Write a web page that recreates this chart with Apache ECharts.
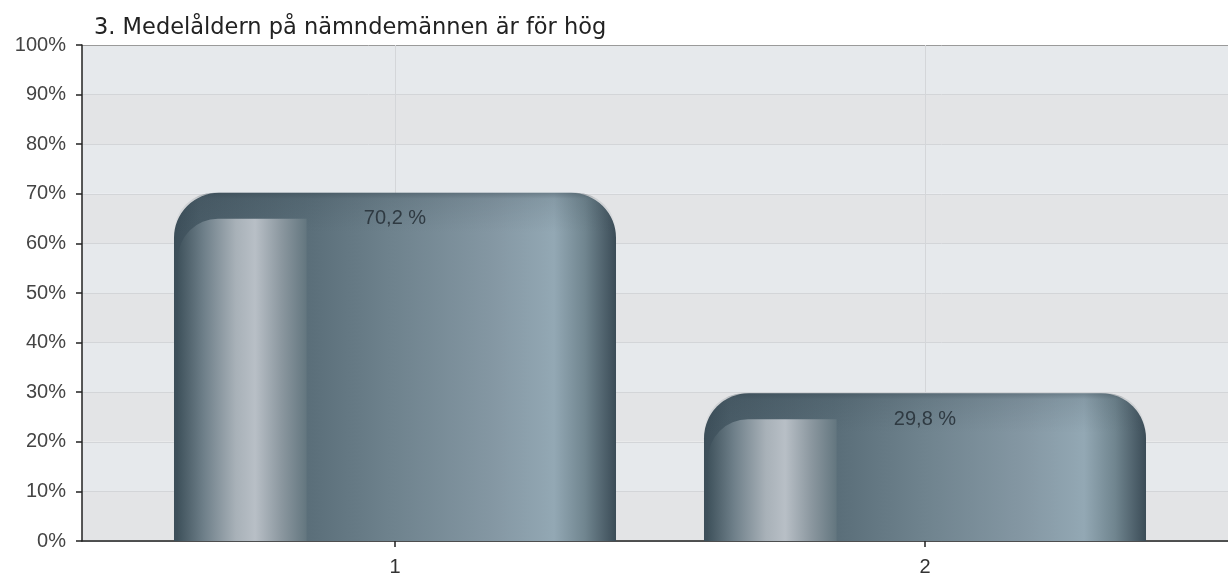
<!DOCTYPE html>
<html>
<head>
<meta charset="utf-8">
<script src="https://cdn.jsdelivr.net/npm/echarts@6/dist/echarts.min.js"></script>
<style>
html,body{margin:0;padding:0;background:#fff;}
#chart{width:1228px;height:577px;}
</style>
</head>
<body>
<div id="chart"></div>
<script>
const titleText = '3. Medelåldern på nämndemännen är för hög';
const categories = ['1', '2'];
const values = [70.2, 29.8];
const yTicks = [0, 10, 20, 30, 40, 50, 60, 70, 80, 90, 100];

const FONT = '"Liberation Sans", Arial, sans-serif';
const chart = echarts.init(document.getElementById('chart'), null, {renderer: 'canvas'});

const splitColors = yTicks.map((v, i) => i === yTicks.length - 1 ? '#9a9a9a' : '#d3d5d8');

function renderBar(params, api) {
  const idx = api.value(0);
  const val = api.value(1);
  const top = api.coord([idx, val]);
  const base = api.coord([idx, 0]);
  const catW = api.size([1, 0])[0];
  const w = catW * 0.834;
  const x = top[0] - w / 2;
  const y = top[1];
  const h = base[1] - top[1];
  const r = 45;
  const panelOff = 26;
  const panelX = x + 4;
  const panelW = w * 0.30 - 4;
  return {
    type: 'group',
    children: [
      {
        type: 'rect',
        shape: {x: x, y: y, width: w, height: h, r: [r, r, 0, 0]},
        style: {
          fill: new echarts.graphic.LinearGradient(0, 0, 1, 0, [
            {offset: 0, color: '#3c4e59'},
            {offset: 0.06, color: '#4a5d68'},
            {offset: 0.3, color: '#5a6e79'},
            {offset: 0.5, color: '#6f838e'},
            {offset: 0.72, color: '#8497a3'},
            {offset: 0.86, color: '#93a8b4'},
            {offset: 0.93, color: '#70858f'},
            {offset: 1, color: '#3b4c57'}
          ])
        }
      },
      {
        type: 'rect',
        shape: {x: x, y: y, width: w, height: Math.min(h, 40), r: [r, r, 0, 0]},
        style: {
          fill: new echarts.graphic.LinearGradient(0, 0, 0, 1, [
            {offset: 0, color: 'rgba(40,55,65,0.35)'},
            {offset: 0.15, color: 'rgba(40,55,65,0.12)'},
            {offset: 1, color: 'rgba(40,55,65,0)'}
          ])
        }
      },
      {
        type: 'rect',
        shape: {x: panelX, y: y + panelOff, width: panelW, height: h - panelOff, r: [40, 0, 0, 0]},
        style: {
          fill: new echarts.graphic.LinearGradient(0, 0, 1, 0, [
            {offset: 0, color: '#3f525c'},
            {offset: 0.2, color: '#6e7f89'},
            {offset: 0.45, color: '#a8b1b8'},
            {offset: 0.6, color: '#b8bfc6'},
            {offset: 0.8, color: '#8c98a0'},
            {offset: 1, color: '#63767f'}
          ])
        }
      },
      {
        type: 'text',
        style: {
          x: top[0],
          y: y + panelOff,
          text: val.toFixed(1).replace('.', ',') + ' %',
          fill: '#2f3a42',
          font: '20px ' + FONT,
          align: 'center',
          verticalAlign: 'middle'
        }
      }
    ]
  };
}

const option = {
  animation: false,
  backgroundColor: '#ffffff',
  title: {
    text: titleText,
    left: 89,
    top: 12,
    textStyle: {fontFamily: '"DejaVu Sans", sans-serif', fontSize: 22.5, fontWeight: 'normal', color: '#222'}
  },
  grid: [
    {left: 82, right: 0, top: 45, bottom: 36},
    {left: 130, right: 38, top: 45, bottom: 36}
  ],
  xAxis: [
    {
      type: 'value', gridIndex: 0, min: 0, max: 1,
      axisLine: {show: true, lineStyle: {color: '#222', width: 1.5}},
      axisTick: {show: false}, axisLabel: {show: false}, splitLine: {show: false}
    },
    {
      type: 'category', gridIndex: 1, data: categories,
      axisLine: {show: false},
      axisTick: {show: true, alignWithLabel: true, length: 6, lineStyle: {color: '#222', width: 1.5}},
      axisLabel: {color: '#333', fontSize: 20, fontFamily: FONT, margin: 16},
      splitLine: {show: false}
    }
  ],
  yAxis: [
    {
      type: 'value', gridIndex: 0, min: 0, max: 100, interval: 10,
      axisLine: {show: true, lineStyle: {color: '#222', width: 1.5}},
      axisTick: {show: true, length: 6, lineStyle: {color: '#222', width: 1.5}},
      axisLabel: {formatter: '{value}%', color: '#444', fontSize: 20, fontFamily: FONT, margin: 16},
      splitLine: {show: true, lineStyle: {color: splitColors, width: 1}},
      splitArea: {show: true, areaStyle: {color: ['#e3e4e6', '#e6e9ec']}}
    },
    {type: 'value', gridIndex: 1, min: 0, max: 100, show: false}
  ],
  series: [
    {
      type: 'line', xAxisIndex: 1, yAxisIndex: 1, data: [], z: 1, silent: true,
      markLine: {
        silent: true, symbol: 'none', label: {show: false},
        lineStyle: {color: '#d4d6d9', type: 'solid', width: 1},
        data: categories.map((c, i) => ({xAxis: i}))
      }
    },
    {
      type: 'custom', xAxisIndex: 1, yAxisIndex: 1, z: 5,
      renderItem: renderBar,
      encode: {x: 0, y: 1},
      data: values.map((v, i) => [i, v])
    }
  ]
};
chart.setOption(option);
</script>
</body>
</html>
